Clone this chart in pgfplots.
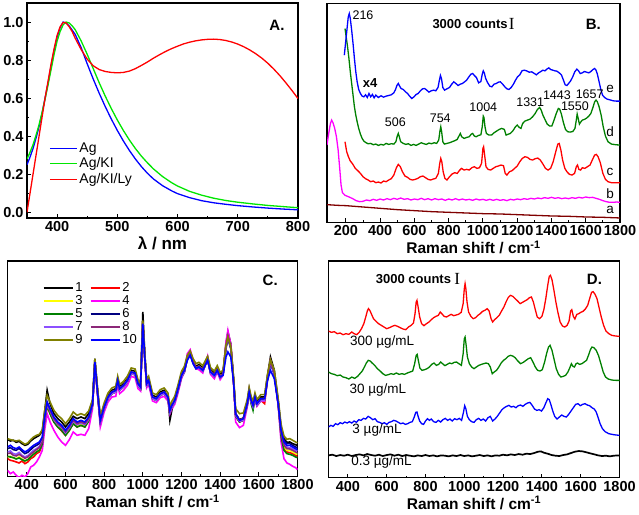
\documentclass[border=0pt]{standalone}
\usepackage{fontspec}
\setmainfont{Liberation Sans}
\newfontfamily\seriffont{Liberation Serif}
\usepackage{pgfplots}
\usepackage{pgfplotstable}
\pgfplotsset{compat=1.18}

\definecolor{agblue}{RGB}{0,0,255}
\definecolor{aggreen}{RGB}{0,230,0}
\definecolor{agred}{RGB}{255,0,0}
\definecolor{dgreen}{RGB}{0,128,0}
\definecolor{wine}{RGB}{128,0,0}
\definecolor{magen}{RGB}{255,0,255}
\definecolor{navy}{RGB}{0,0,128}
\definecolor{violet7}{RGB}{140,80,255}
\definecolor{purple8}{RGB}{140,40,120}
\definecolor{olive9}{RGB}{128,128,0}
\definecolor{yellow3}{RGB}{255,255,0}

\tikzset{
  note/.style={font=\fontsize{12.5}{13}\selectfont},
  bnote/.style={font=\fontsize{13}{13}\selectfont\bfseries},
  cnote/.style={font=\fontsize{13.5}{14}\selectfont},
}

% panel C: ten repeated spectra (y in image units, downwards)
\pgfplotstableread{
x c1 c2 c3 c4 c5 c6 c7 c8 c9 c10
300 548 605 600 640 598 575 585 590 545 570
315 552 610 598 650 600 572 582 588 548 565
330 550 612 603 645 602 578 590 595 550 572
345 556 615 605 655 606 580 592 597 552 575
360 553 618 600 662 603 574 586 592 550 570
375 560 612 606 655 608 583 595 598 556 578
390 565 620 612 660 612 590 600 604 562 585
405 562 615 608 650 608 586 596 600 558 580
420 552 605 598 630 600 578 588 592 548 572
435 545 600 590 625 592 570 580 585 540 565
450 540 590 585 615 585 565 575 578 535 560
465 535 585 578 600 580 560 568 572 532 555
480 522 565 560 580 562 545 552 555 518 540
492 465 495 490 520 495 483 488 485 462 480
505 400 448 440 470 445 438 442 438 415 435
520 440 470 465 495 470 458 462 460 435 455
540 470 495 490 520 495 483 488 485 460 480
560 485 510 505 540 510 498 503 500 475 495
580 495 522 515 555 520 508 512 510 485 505
600 510 535 530 565 535 523 528 525 500 520
620 495 520 515 548 520 508 513 510 485 505
640 478 500 495 525 500 488 493 490 465 485
660 485 510 505 535 510 498 503 500 475 495
680 480 505 500 532 505 493 498 495 470 490
700 485 510 505 535 510 498 503 500 475 495
720 470 492 488 515 492 483 488 485 462 480
740 432 445 440 455 445 442 445 440 428 440
752 305 318 312 318 316 316 318 312 305 315
765 392 405 400 410 405 402 405 400 390 400
780 482 495 490 510 495 492 495 490 478 490
800 445 455 450 465 455 452 455 450 438 450
820 415 425 420 435 425 422 425 420 408 420
840 400 410 405 420 410 407 410 405 393 405
860 395 405 400 418 405 402 405 400 388 400
870 365 375 370 385 375 372 375 370 358 370
880 390 400 395 410 400 397 400 395 383 395
900 380 390 385 400 390 387 390 385 373 385
920 365 375 370 385 375 372 375 370 358 370
940 340 350 345 358 350 347 350 345 333 345
960 343 353 348 362 353 350 353 348 336 348
975 375 385 380 395 385 382 385 380 368 380
988 385 395 390 402 395 392 395 390 378 390
1000 165 195 195 205 198 200 200 195 190 200
1010 290 302 300 310 302 300 303 300 290 300
1020 375 385 380 392 385 382 385 380 368 380
1030 365 375 370 382 375 372 375 370 358 370
1050 415 425 420 432 425 422 425 420 408 420
1070 420 430 425 437 430 427 430 425 413 425
1090 405 415 410 422 415 412 415 410 398 410
1110 400 410 405 418 410 407 410 405 393 405
1130 420 425 420 432 425 422 425 420 408 420
1140 490 465 460 470 465 462 465 460 448 460
1150 460 450 445 455 450 447 450 445 433 445
1165 425 435 430 442 435 432 435 430 418 430
1180 395 405 400 412 405 402 405 400 388 400
1200 350 360 355 365 360 357 360 355 343 355
1215 335 345 340 345 345 342 345 340 328 340
1230 300 305 300 290 305 305 305 300 295 310
1245 285 290 285 278 290 290 290 285 282 295
1260 312 318 315 310 318 318 318 315 305 320
1275 328 335 332 335 335 334 335 332 320 335
1290 323 332 328 338 332 330 332 328 316 330
1310 333 342 338 348 342 340 342 338 326 340
1335 300 308 305 298 308 308 308 305 298 310
1350 338 348 343 352 348 345 348 343 332 345
1370 348 358 353 365 358 355 358 353 342 355
1385 333 342 338 345 342 340 342 338 326 340
1400 352 362 358 368 362 360 362 358 346 360
1415 345 352 350 355 352 352 353 350 340 355
1430 260 270 268 255 270 275 272 268 265 300
1440 225 238 235 220 240 245 240 236 240 285
1455 260 270 268 262 272 275 272 268 270 300
1470 370 378 375 385 378 378 378 375 365 380
1480 470 478 472 495 478 472 475 472 455 470
1500 488 495 490 512 495 490 493 490 470 490
1520 483 490 485 505 490 487 490 485 468 485
1540 435 445 440 450 445 442 445 440 428 440
1550 395 405 400 402 405 405 405 400 392 405
1560 425 435 430 438 440 432 435 430 418 430
1570 440 450 445 452 460 447 450 445 433 445
1580 415 425 420 428 425 422 425 420 408 420
1590 435 445 440 448 445 442 445 440 428 440
1610 420 430 425 432 430 427 430 425 413 425
1630 420 440 425 432 430 427 430 425 413 425
1645 355 365 362 362 365 365 365 360 352 370
1660 300 315 312 310 315 318 315 312 308 340
1680 340 350 348 348 350 352 350 348 340 365
1700 430 440 435 445 440 438 440 438 425 440
1715 512 535 530 555 538 515 522 528 502 520
1730 545 575 570 605 580 550 560 565 537 555
1745 556 585 580 618 590 560 570 575 547 565
1760 555 587 580 622 592 560 572 576 545 565
1775 560 590 585 628 595 565 575 580 550 570
1790 563 595 590 632 600 570 580 585 555 575
1800 566 598 592 638 602 572 582 588 558 578
}\tableC

\begin{document}
\begin{tikzpicture}[x=1pt,y=1pt]
\path[use as bounding box] (0,0) rectangle (639,514);
\pgfplotsset{
  panel/.style={
    scale only axis, anchor=south west,
    tick pos=left, tick align=inside,
    major tick length=4pt, minor tick length=2pt,
    axis line style={line width=1.1pt},
    every tick/.style={black, line width=0.9pt},
    /pgf/number format/assume math mode=true,
    /pgf/number format/set thousands separator={},
    tick label style={font=\fontsize{14.5}{15}\selectfont\bfseries},
    xlabel style={font=\fontsize{15.5}{16}\selectfont\bfseries, yshift=2pt},
    every axis plot/.append style={line width=1.3pt, no markers},
    clip=true,
  },
  raman/.style={
    xtick={200,400,...,1800}, minor x tick num=1, xmax=1800,
    ytick=\empty, y dir=reverse,
    xlabel={Raman shift / cm\textsuperscript{-1}},
  },
}

% ---------------- A ----------------
\begin{axis}[panel, at={(27pt,296pt)}, width=271pt, height=215pt,
  xmin=350, xmax=800, ymin=-0.03, ymax=1.10,
  xtick={400,500,...,800}, minor x tick num=1,
  ytick={0,0.2,0.4,0.6,0.8,1.0}, minor y tick num=1,
  yticklabel style={/pgf/number format/.cd, fixed, fixed zerofill, precision=1},
  xlabel={\fontsize{17}{17}\selectfont λ / nm},
  legend style={draw=none, fill=none, at={(0.07,0.37)}, anchor=north west,
    font=\fontsize{14}{15}\selectfont, row sep=0pt},
  legend cell align=left,
  legend image code/.code={\draw[#1, line width=1.3pt] (0pt,0pt) -- (27pt,0pt);},
]
\addplot[agblue] coordinates {(350,0.25)(355,0.29)(360,0.335)(365,0.39)(370,0.45)(375,0.52)(380,0.6)(385,0.68)(390,0.77)(395,0.85)(400,0.92)(405,0.97)(410,1.0)(415,0.995)(420,0.98)(430,0.935)(440,0.865)(450,0.78)(460,0.7)(470,0.625)(480,0.555)(490,0.49)(500,0.43)(510,0.375)(520,0.325)(530,0.28)(540,0.24)(550,0.205)(560,0.175)(575,0.14)(590,0.113)(600,0.098)(620,0.077)(640,0.061)(660,0.05)(680,0.042)(700,0.035)(725,0.028)(750,0.022)(775,0.017)(800,0.013)};
\addplot[aggreen] coordinates {(350,0.28)(355,0.315)(360,0.355)(365,0.405)(370,0.46)(375,0.525)(380,0.595)(385,0.67)(390,0.75)(395,0.83)(400,0.9)(405,0.95)(410,0.985)(415,1.0)(420,0.995)(425,0.98)(430,0.96)(440,0.9)(450,0.83)(460,0.755)(470,0.68)(480,0.61)(490,0.545)(500,0.485)(510,0.43)(520,0.38)(530,0.335)(540,0.295)(550,0.26)(560,0.228)(575,0.188)(590,0.156)(600,0.138)(620,0.11)(640,0.09)(660,0.074)(680,0.062)(700,0.053)(725,0.044)(750,0.036)(775,0.03)(800,0.024)};
\addplot[agred] coordinates {(350,0.0)(355,0.1)(360,0.2)(365,0.3)(370,0.4)(375,0.5)(380,0.6)(385,0.69)(390,0.78)(395,0.86)(400,0.93)(405,0.975)(410,0.998)(415,0.995)(420,0.975)(425,0.95)(430,0.915)(440,0.855)(450,0.805)(460,0.77)(470,0.75)(480,0.74)(490,0.735)(500,0.733)(510,0.735)(520,0.742)(530,0.755)(540,0.772)(550,0.79)(560,0.81)(570,0.828)(580,0.845)(590,0.86)(600,0.873)(610,0.885)(620,0.894)(630,0.901)(640,0.906)(650,0.909)(660,0.91)(670,0.908)(680,0.903)(690,0.895)(700,0.884)(710,0.87)(720,0.853)(730,0.833)(740,0.81)(750,0.783)(760,0.752)(770,0.718)(780,0.68)(790,0.64)(800,0.598)};
\legend{Ag, Ag/KI, Ag/KI/Ly}
\node[font=\fontsize{15}{15}\selectfont\bfseries] at (axis cs:765,0.98) {A.};
\end{axis}

% ---------------- B ----------------
\begin{axis}[panel, raman, at={(327pt,291.7pt)}, width=293pt, height=218.7pt,
  xmin=90, ymin=10, ymax=667]
\addplot[wine] coordinates {(90,614)(150,616)(200,617)(250,619)(300,621)(350,623)(400,625)(450,627)(500,629)(600,632)(700,635)(800,637)(900,639)(1000,641)(1100,642)(1200,644)(1300,646)(1400,648)(1500,649)(1600,651)(1700,652)(1800,654)};
\addplot[magen] coordinates {(90,435)(100,400)(110,370)(117,360)(125,368)(135,385)(145,410)(155,450)(165,510)(172,555)(180,578)(195,586)(215,590)(240,596)(260,602)(280,605)(300,604)(320,600)(340,602)(360,598)(380,601)(400,597)(420,600)(440,596)(460,599)(480,595)(500,598)(520,594)(540,598)(560,596)(580,600)(600,597)(620,599)(640,595)(660,599)(680,596)(700,600)(720,596)(740,599)(760,597)(780,601)(800,597)(820,600)(840,596)(860,600)(880,597)(900,600)(920,598)(940,601)(960,597)(980,600)(1000,598)(1020,601)(1040,598)(1060,601)(1080,598)(1100,601)(1120,599)(1140,602)(1160,598)(1180,600)(1200,597)(1220,599)(1240,596)(1260,598)(1280,595)(1300,597)(1320,594)(1340,596)(1360,593)(1380,595)(1400,592)(1420,595)(1440,593)(1460,596)(1480,594)(1500,596)(1520,593)(1540,595)(1560,592)(1580,594)(1600,591)(1620,593)(1640,592)(1660,595)(1680,598)(1700,602)(1720,605)(1740,607)(1760,607)(1780,606)(1800,607)};
\addplot[agred] coordinates {(195,425)(205,455)(215,470)(225,482)(240,492)(255,505)(270,512)(285,520)(300,530)(315,536)(330,540)(345,545)(360,543)(375,548)(390,546)(405,549)(420,543)(435,545)(450,540)(465,536)(480,525)(495,503)(506,493)(518,500)(530,515)(545,528)(560,532)(575,538)(590,540)(605,538)(620,535)(635,530)(650,528)(665,533)(680,538)(695,540)(710,537)(725,535)(740,520)(748,490)(754,475)(760,485)(768,515)(778,535)(790,540)(805,530)(820,522)(835,518)(850,520)(865,510)(875,505)(890,510)(905,508)(920,510)(935,503)(950,500)(965,505)(980,503)(992,490)(1000,445)(1004,440)(1010,465)(1018,500)(1030,508)(1045,510)(1060,505)(1075,500)(1090,498)(1105,495)(1120,497)(1130,520)(1140,525)(1155,515)(1170,512)(1185,505)(1200,498)(1215,485)(1230,475)(1245,470)(1260,472)(1275,478)(1290,480)(1305,476)(1320,474)(1335,480)(1350,492)(1365,505)(1380,510)(1395,505)(1410,485)(1425,455)(1437,432)(1445,430)(1455,450)(1465,480)(1478,505)(1490,515)(1505,523)(1520,525)(1535,520)(1545,500)(1552,495)(1560,508)(1570,510)(1580,503)(1595,505)(1610,500)(1625,495)(1640,478)(1652,465)(1662,463)(1672,470)(1685,488)(1700,520)(1715,538)(1730,545)(1750,548)(1775,548)(1800,548)};
\addplot[dgreen] coordinates {(195,85)(202,110)(210,140)(218,175)(226,215)(234,250)(242,285)(250,320)(258,345)(266,365)(275,385)(285,402)(295,415)(305,423)(318,428)(330,431)(345,430)(360,434)(375,432)(390,436)(405,433)(420,435)(435,430)(450,433)(465,431)(480,432)(492,425)(500,408)(506,400)(512,410)(520,425)(535,430)(550,433)(565,431)(580,436)(595,433)(610,436)(625,432)(640,428)(655,431)(670,433)(685,429)(700,431)(715,428)(730,430)(742,420)(750,390)(754,380)(759,395)(766,425)(775,432)(790,430)(805,428)(820,425)(835,422)(850,418)(860,408)(868,400)(876,410)(890,415)(905,412)(920,410)(932,402)(940,400)(950,408)(960,410)(975,406)(988,404)(996,380)(1002,348)(1006,352)(1012,380)(1020,400)(1035,405)(1050,405)(1065,398)(1080,393)(1095,388)(1110,385)(1125,388)(1135,405)(1145,403)(1160,400)(1175,392)(1190,380)(1200,375)(1212,382)(1222,385)(1232,370)(1245,363)(1260,360)(1275,357)(1290,350)(1305,340)(1318,328)(1331,322)(1340,330)(1350,345)(1362,358)(1375,372)(1390,378)(1402,378)(1415,360)(1428,340)(1440,325)(1448,327)(1458,342)(1470,368)(1482,388)(1495,395)(1510,396)(1525,394)(1537,385)(1545,360)(1550,342)(1556,355)(1563,372)(1572,365)(1580,360)(1592,358)(1605,354)(1618,348)(1630,340)(1642,322)(1652,305)(1660,300)(1668,305)(1678,320)(1690,345)(1702,380)(1715,408)(1730,425)(1750,432)(1775,434)(1800,435)};
\addplot[agblue] coordinates {(191,165)(200,120)(208,80)(214,50)(220,40)(226,55)(234,90)(242,130)(250,175)(258,215)(266,245)(275,268)(285,280)(295,288)(305,290)(315,284)(325,292)(335,280)(345,290)(355,283)(365,293)(375,285)(390,292)(405,287)(420,291)(435,288)(450,286)(465,284)(480,278)(490,268)(498,256)(506,250)(514,258)(522,265)(535,268)(548,275)(560,280)(572,288)(585,295)(598,290)(610,283)(622,280)(635,272)(648,266)(660,265)(672,270)(685,276)(698,272)(712,270)(725,272)(738,262)(746,240)(752,226)(758,235)(766,262)(776,270)(790,266)(805,262)(818,252)(830,245)(842,250)(855,256)(868,252)(880,250)(893,245)(905,240)(918,230)(930,222)(940,220)(950,226)(962,232)(975,248)(988,244)(996,222)(1002,212)(1008,218)(1016,235)(1028,248)(1040,258)(1052,260)(1065,252)(1078,250)(1090,246)(1102,245)(1115,252)(1128,260)(1140,266)(1152,268)(1165,262)(1178,252)(1190,240)(1202,230)(1215,224)(1228,212)(1240,210)(1255,212)(1270,216)(1285,215)(1300,220)(1312,224)(1325,218)(1338,214)(1350,210)(1362,212)(1375,206)(1385,203)(1395,208)(1408,210)(1420,212)(1432,213)(1445,218)(1458,224)(1470,240)(1480,254)(1490,256)(1500,250)(1512,242)(1524,230)(1536,215)(1548,207)(1558,212)(1568,220)(1580,218)(1592,214)(1605,216)(1618,218)(1630,214)(1642,208)(1652,205)(1660,210)(1668,222)(1678,245)(1688,268)(1698,285)(1710,292)(1725,297)(1740,299)(1760,302)(1780,303)(1800,303)};
\node[note] at (axis cs:300,45) {216};
\node[bnote] at (axis cs:925,70) {3000 counts};
\node[font=\fontsize{17}{17}\selectfont\seriffont] at (axis cs:1168,70) {I};
\node[font=\fontsize{15}{15}\selectfont\bfseries] at (axis cs:1644,72) {B.};
\node[bnote] at (axis cs:341,250) {x4};
\node[note] at (axis cs:489,365) {506};
\node[note] at (axis cs:751,355) {754};
\node[note] at (axis cs:1002,322) {1004};
\node[note] at (axis cs:1276,305) {1331};
\node[note] at (axis cs:1432,285) {1443};
\node[note] at (axis cs:1537,318) {1550};
\node[note] at (axis cs:1623,282) {1657};
\node[cnote] at (axis cs:1742,265) {e};
\node[cnote] at (axis cs:1742,395) {d};
\node[cnote] at (axis cs:1742,515) {c};
\node[cnote] at (axis cs:1742,580) {b};
\node[cnote] at (axis cs:1742,630) {a};
\end{axis}

% ---------------- C ----------------
\begin{axis}[panel, raman, at={(7.5pt,37.7pt)}, width=290pt, height=215.3pt,
  xmin=300, ymin=12, ymax=658, xtick={400,600,...,1800},
  every axis plot/.append style={line width=1.6pt},
  legend style={draw=none, fill=none, at={(0.11,0.92)}, anchor=north west,
    font=\fontsize{13}{13}\selectfont, row sep=-1.5pt,
    /tikz/every even column/.append style={column sep=5pt}},
  legend columns=2, legend cell align=left,
  legend image code/.code={\draw[#1, line width=1.8pt] (0pt,0pt) -- (29pt,0pt);},
]
\addplot[black]   table[x=x,y=c1] {\tableC};
\addplot[agred]   table[x=x,y=c2] {\tableC};
\addplot[yellow3] table[x=x,y=c3] {\tableC};
\addplot[magen]   table[x=x,y=c4] {\tableC};
\addplot[dgreen]  table[x=x,y=c5] {\tableC};
\addplot[navy]    table[x=x,y=c6] {\tableC};
\addplot[violet7] table[x=x,y=c7] {\tableC};
\addplot[purple8] table[x=x,y=c8] {\tableC};
\addplot[olive9]  table[x=x,y=c9] {\tableC};
\addplot[agblue]  table[x=x,y=c10] {\tableC};
\legend{1,2,3,4,5,6,7,8,9,10}
\node[font=\fontsize{15}{15}\selectfont\bfseries] at (axis cs:1659,70) {C.};
\end{axis}

% ---------------- D ----------------
\begin{axis}[panel, raman, at={(328.5pt,36.3pt)}, width=291pt, height=216.7pt,
  xmin=300, ymin=12, ymax=662, xtick={400,600,...,1800}]
\addplot[agred] coordinates {(300,222)(315,226)(330,224)(345,230)(360,228)(375,233)(390,230)(405,232)(420,225)(432,230)(445,233)(458,226)(470,215)(482,200)(492,180)(500,162)(506,155)(513,160)(522,172)(532,185)(545,193)(558,200)(572,205)(586,210)(600,215)(614,212)(628,208)(642,205)(656,208)(670,212)(684,216)(698,218)(712,210)(726,205)(738,198)(746,170)(752,135)(756,130)(762,150)(770,180)(780,200)(792,206)(805,200)(818,195)(830,188)(842,182)(854,178)(866,175)(876,165)(884,170)(896,178)(908,180)(920,176)(932,172)(945,176)(958,174)(970,172)(984,166)(994,140)(1000,95)(1004,80)(1008,95)(1014,135)(1022,165)(1034,178)(1046,185)(1058,182)(1070,175)(1082,170)(1094,163)(1106,160)(1118,155)(1128,162)(1138,185)(1146,195)(1156,188)(1168,182)(1180,175)(1192,162)(1204,150)(1215,135)(1226,122)(1238,115)(1250,118)(1262,125)(1275,132)(1288,140)(1300,136)(1312,132)(1324,128)(1336,122)(1346,120)(1356,135)(1366,158)(1376,180)(1388,185)(1400,178)(1410,158)(1420,125)(1430,85)(1438,58)(1444,55)(1452,68)(1462,100)(1472,135)(1482,165)(1494,195)(1506,207)(1518,210)(1530,205)(1540,192)(1548,162)(1554,158)(1562,178)(1570,186)(1580,172)(1590,170)(1600,166)(1612,163)(1624,156)(1636,145)(1646,125)(1656,106)(1664,104)(1674,112)(1684,125)(1694,150)(1706,180)(1718,205)(1730,222)(1745,230)(1760,235)(1780,237)(1800,238)};
\addplot[dgreen] coordinates {(300,345)(315,350)(330,352)(345,356)(360,354)(375,360)(390,362)(405,366)(420,360)(435,364)(450,358)(462,350)(474,342)(485,330)(495,318)(505,310)(515,312)(525,318)(538,325)(552,335)(566,342)(580,350)(594,355)(608,353)(622,350)(636,352)(650,348)(664,352)(678,350)(692,352)(706,348)(720,345)(734,342)(744,320)(752,295)(757,292)(763,310)(771,333)(782,340)(795,338)(808,335)(820,330)(832,322)(844,318)(856,325)(868,322)(878,315)(888,320)(900,326)(912,322)(924,318)(936,320)(948,316)(960,315)(972,320)(985,325)(994,290)(1000,245)(1004,240)(1009,262)(1016,300)(1026,320)(1038,330)(1050,335)(1062,330)(1075,325)(1088,322)(1100,320)(1112,318)(1124,320)(1134,330)(1144,350)(1154,345)(1166,340)(1178,330)(1190,318)(1202,310)(1214,305)(1226,298)(1238,295)(1250,297)(1262,302)(1276,312)(1290,320)(1304,316)(1318,310)(1330,305)(1342,302)(1354,315)(1366,330)(1378,340)(1390,342)(1402,338)(1414,315)(1424,290)(1434,270)(1442,265)(1452,280)(1462,305)(1474,335)(1486,352)(1498,360)(1510,358)(1522,355)(1534,345)(1544,332)(1552,320)(1560,328)(1568,330)(1576,320)(1584,318)(1594,322)(1606,320)(1618,315)(1630,310)(1640,295)(1650,278)(1658,270)(1668,272)(1680,280)(1692,296)(1704,320)(1716,345)(1728,360)(1742,366)(1760,369)(1780,370)(1800,370)};
\addplot[agblue] coordinates {(300,510)(312,505)(324,508)(336,500)(348,503)(360,497)(372,500)(384,495)(396,498)(408,494)(420,498)(432,492)(444,496)(456,488)(468,490)(480,484)(492,486)(504,478)(516,482)(528,488)(540,485)(552,494)(564,496)(576,500)(588,497)(600,502)(612,496)(624,494)(636,490)(648,492)(660,496)(672,500)(684,498)(696,502)(708,500)(720,496)(732,494)(742,480)(750,466)(756,465)(762,478)(770,492)(780,500)(790,502)(800,492)(810,485)(820,490)(830,486)(842,494)(854,496)(866,490)(878,495)(890,488)(902,484)(914,490)(926,486)(938,492)(950,485)(962,488)(974,484)(986,490)(996,465)(1002,446)(1008,455)(1016,478)(1026,488)(1038,494)(1050,496)(1062,488)(1074,484)(1086,490)(1098,486)(1110,492)(1122,482)(1134,478)(1146,492)(1158,486)(1170,478)(1182,468)(1194,458)(1206,452)(1218,448)(1230,445)(1242,450)(1254,448)(1266,452)(1278,446)(1290,444)(1302,448)(1314,442)(1326,438)(1338,436)(1350,445)(1362,456)(1374,460)(1386,458)(1398,462)(1410,452)(1420,438)(1430,425)(1438,428)(1446,442)(1456,462)(1466,478)(1478,486)(1490,480)(1502,474)(1514,478)(1526,480)(1538,472)(1550,462)(1562,452)(1574,442)(1586,440)(1598,446)(1610,442)(1622,440)(1634,444)(1646,446)(1658,452)(1670,456)(1680,465)(1690,482)(1700,500)(1712,515)(1726,524)(1745,530)(1770,533)(1800,535)};
\addplot[black, line width=1.7pt] coordinates {(300,595)(320,593)(340,597)(360,594)(380,596)(400,593)(420,597)(440,594)(460,592)(480,595)(500,591)(520,594)(540,596)(560,593)(580,597)(600,594)(620,592)(640,596)(660,593)(680,597)(700,594)(720,596)(740,598)(760,595)(780,597)(800,594)(820,597)(840,595)(860,598)(880,595)(900,596)(920,598)(940,595)(960,597)(980,594)(1000,597)(1020,595)(1040,598)(1060,596)(1080,594)(1100,597)(1120,595)(1140,598)(1160,595)(1180,596)(1200,593)(1220,595)(1240,592)(1260,594)(1280,591)(1300,593)(1320,590)(1340,591)(1360,588)(1380,584)(1395,583)(1410,587)(1430,590)(1450,594)(1470,596)(1490,597)(1510,594)(1530,592)(1550,588)(1570,584)(1590,582)(1610,583)(1630,586)(1650,589)(1670,592)(1690,595)(1710,597)(1730,596)(1750,598)(1770,596)(1800,595)};
\node[bnote] at (axis cs:738,65) {3000 counts};
\node[font=\fontsize{17}{17}\selectfont\seriffont] at (axis cs:963,65) {I};
\node[font=\fontsize{15}{15}\selectfont\bfseries] at (axis cs:1671,68) {D.};
\node[cnote] at (axis cs:576,255) {300 µg/mL};
\node[cnote] at (axis cs:554,400) {30 µg/mL};
\node[cnote] at (axis cs:550,520) {3 µg/mL};
\node[cnote] at (axis cs:573,615) {0.3 µg/mL};
\end{axis}
\end{tikzpicture}
\end{document}
